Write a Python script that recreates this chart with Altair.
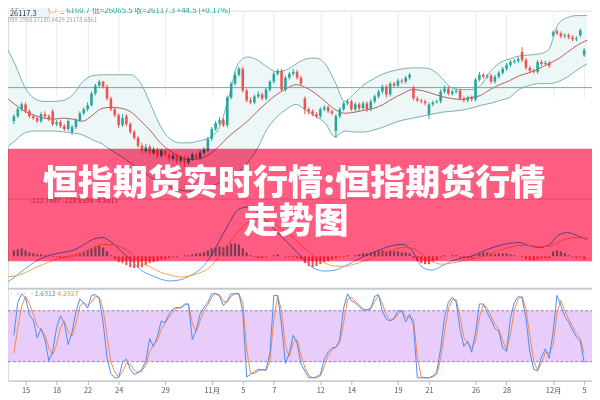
import json
import altair as alt
import pandas as pd

# ---------------- data (HSI futures, mid-Oct to early Dec 2018, ~4 bars per trading day) ----------------
bar_open = [25800, 25850, 25920, 25970, 25900, 25850, 25830, 25800, 25870, 25850,
            25900, 25770, 25790, 25750, 25720, 25690, 25740, 25810, 25880, 25920,
            25960, 26080, 26160, 26200, 26150, 26030, 25920, 25860, 25760, 25850,
            25770, 25690, 25630, 25550, 25500, 25540, 25480, 25510, 25450, 25500,
            25460, 25420, 25450, 25400, 25430, 25380, 25420, 25460, 25430, 25480,
            25510, 25620, 25720, 25780, 25810, 25760, 26040, 26180, 26270, 26330,
            26110, 26010, 25990, 26050, 26070, 26030, 26120, 26200, 26280, 26310,
            26120, 26240, 26280, 26300, 26240, 26030, 25920, 25900, 25870, 25850,
            25920, 25940, 25900, 25700, 25850, 25920, 25980, 26000, 25920, 25970,
            25930, 25980, 25920, 26000, 26050, 26100, 26150, 26070, 26180, 26160,
            26210, 26200, 26240, 26140, 26030, 26010, 26000, 25870, 25970, 25990,
            26000, 26100, 26130, 26080, 26100, 26110, 26030, 26010, 26040, 26020,
            26220, 26270, 26250, 26260, 26200, 26250, 26290, 26330, 26370, 26400,
            26410, 26500, 26420, 26340, 26310, 26300, 26400, 26380, 26390, 26670,
            26710, 26690, 26660, 26670, 26650, 26630, 26670, 26470]
bar_close = [25850, 25920, 25970, 25900, 25850, 25830, 25800, 25870, 25850, 25820,
             25770, 25790, 25750, 25720, 25800, 25740, 25810, 25880, 25920, 25960,
             26080, 26160, 26200, 26150, 26030, 25920, 25860, 25760, 25830, 25770,
             25690, 25630, 25550, 25500, 25540, 25480, 25510, 25450, 25500, 25460,
             25420, 25450, 25400, 25430, 25380, 25420, 25460, 25430, 25480, 25510,
             25620, 25720, 25780, 25810, 25760, 26040, 26180, 26270, 26330, 26110,
             26010, 25990, 26050, 26070, 26030, 26120, 26200, 26280, 26310, 26120,
             26240, 26280, 26300, 26240, 26180, 25920, 25900, 25870, 25850, 25920,
             25940, 25900, 25880, 25850, 25920, 25980, 26000, 25920, 25970, 25930,
             25980, 25920, 26000, 26050, 26100, 26150, 26070, 26180, 26160, 26210,
             26200, 26240, 26270, 26030, 26010, 26000, 25980, 25970, 25990, 26000,
             26100, 26130, 26080, 26100, 26110, 26030, 26010, 26040, 26020, 26220,
             26270, 26250, 26260, 26200, 26250, 26290, 26330, 26370, 26400, 26410,
             26430, 26420, 26340, 26310, 26300, 26400, 26380, 26390, 26360, 26700,
             26690, 26660, 26670, 26650, 26630, 26640, 26720, 26520]
bar_high = [25870, 25940, 25990, 25990, 25920, 25870, 25850, 25890, 25900, 25870,
            25920, 25810, 25810, 25770, 25820, 25760, 25830, 25900, 25940, 25990,
            26100, 26180, 26220, 26210, 26170, 26050, 25940, 25880, 25870, 25870,
            25790, 25710, 25650, 25580, 25570, 25560, 25540, 25530, 25520, 25520,
            25480, 25470, 25470, 25450, 25450, 25440, 25480, 25480, 25500, 25540,
            25640, 25740, 25800, 25840, 25830, 26060, 26200, 26300, 26350, 26350,
            26130, 26040, 26070, 26100, 26090, 26140, 26220, 26300, 26330, 26330,
            26260, 26300, 26330, 26320, 26260, 26050, 25940, 25920, 25890, 25940,
            25960, 25960, 25920, 25870, 25940, 26000, 26020, 26020, 25990, 25990,
            26000, 26000, 26020, 26070, 26120, 26170, 26170, 26200, 26200, 26230,
            26230, 26260, 26290, 26160, 26050, 26030, 26020, 25990, 26010, 26020,
            26120, 26160, 26150, 26120, 26130, 26130, 26050, 26060, 26060, 26240,
            26300, 26290, 26280, 26280, 26270, 26310, 26350, 26390, 26420, 26430,
            26450, 26550, 26440, 26360, 26330, 26420, 26420, 26410, 26410, 26720,
            26730, 26710, 26690, 26690, 26670, 26660, 26740, 26540]
bar_low = [25770, 25830, 25900, 25880, 25830, 25810, 25780, 25780, 25830, 25800,
           25750, 25750, 25730, 25700, 25700, 25660, 25720, 25790, 25860, 25900,
           25950, 26060, 26140, 26130, 26010, 25900, 25840, 25730, 25740, 25750,
           25670, 25610, 25530, 25470, 25480, 25450, 25460, 25420, 25430, 25440,
           25390, 25400, 25370, 25380, 25340, 25360, 25400, 25410, 25410, 25460,
           25490, 25600, 25700, 25760, 25740, 25740, 26020, 26160, 26250, 26090,
           25990, 25970, 25970, 26030, 26010, 26010, 26100, 26180, 26260, 26100,
           26100, 26220, 26260, 26220, 26160, 25870, 25870, 25850, 25830, 25830,
           25900, 25880, 25860, 25630, 25830, 25900, 25960, 25900, 25900, 25900,
           25910, 25890, 25900, 25980, 26030, 26080, 26040, 26050, 26140, 26140,
           26180, 26180, 26220, 26010, 25990, 25980, 25960, 25820, 25950, 25980,
           25980, 26080, 26060, 26060, 26080, 26010, 25990, 25990, 26000, 26000,
           26200, 26230, 26230, 26180, 26180, 26230, 26270, 26310, 26350, 26380,
           26390, 26400, 26320, 26290, 26280, 26280, 26360, 26360, 26340, 26650,
           26670, 26640, 26640, 26630, 26610, 26610, 26650, 26450]
macd_hist = [30, 35, 40, 30, 20, 15, 10, 10, 5, 5,
             -5, -5, -10, -10, -5, -5, 5, 10, 20, 30,
             40, 50, 55, 45, 25, 5, -15, -30, -35, -45,
             -55, -60, -60, -55, -45, -35, -30, -25, -15, -15,
             -10, -5, -5, 0, 5, 5, 10, 15, 15, 20,
             30, 40, 45, 50, 45, 55, 65, 65, 60, 40,
             20, 5, -5, -10, -10, -5, 0, 5, 10, 0,
             -5, -5, -5, -10, -15, -35, -50, -55, -50, -40,
             -30, -25, -15, -10, -5, -5, 5, 0, 5, 10,
             15, 15, 20, 25, 30, 30, 25, 30, 25, 25,
             20, 20, 15, -10, -25, -35, -40, -40, -30, -20,
             -5, 5, 0, 5, 5, -5, -10, -10, -10, 5,
             15, 20, 20, 10, 10, 15, 15, 15, 10, 5,
             0, -5, -15, -20, -20, -15, -10, -10, -10, 25,
             30, 25, 15, 5, -5, -10, -5, -15]
stoch_k = [51, 90, 100, 95, 75, 69, 48, 59, 46, 21,
           32, 60, 74, 65, 40, 55, 79, 94, 89, 83,
           98, 99, 94, 66, 25, 6, 1, 1, 19, 23,
           11, 5, 7, 11, 21, 47, 38, 50, 68, 66,
           76, 82, 84, 83, 88, 88, 46, 57, 76, 84,
           90, 100, 100, 97, 86, 92, 100, 100, 100, 79,
           2, 5, 8, 11, 10, 10, 30, 98, 98, 63,
           18, 30, 51, 42, 17, 9, 1, 1, 2, 5,
           23, 31, 36, 37, 46, 83, 100, 92, 89, 85,
           80, 81, 83, 97, 99, 79, 70, 68, 71, 80,
           80, 67, 76, 63, 1, 1, 1, 1, 3, 8,
           35, 72, 90, 96, 90, 58, 38, 44, 31, 54,
           88, 88, 78, 69, 59, 56, 36, 32, 71, 90,
           97, 95, 71, 31, 11, 9, 26, 35, 24, 55,
           98, 86, 73, 67, 57, 49, 44, 19]
stoch_d = [30, 60, 85, 97, 88, 76, 62, 58, 52, 36,
           28, 40, 60, 68, 55, 50, 65, 85, 90, 86,
           90, 97, 96, 82, 50, 20, 8, 2, 8, 18,
           17, 10, 7, 9, 16, 32, 40, 45, 58, 66,
           72, 78, 83, 84, 86, 88, 65, 55, 68, 80,
           87, 96, 100, 99, 91, 90, 97, 100, 100, 90,
           35, 6, 6, 9, 11, 10, 20, 70, 97, 80,
           38, 26, 42, 46, 28, 13, 4, 1, 1, 3,
           14, 27, 34, 37, 42, 66, 93, 96, 91, 87,
           82, 81, 82, 91, 98, 88, 75, 69, 70, 76,
           80, 73, 72, 70, 25, 2, 1, 1, 2, 5,
           22, 55, 82, 93, 93, 73, 48, 42, 36, 44,
           72, 88, 83, 74, 64, 58, 45, 34, 52, 81,
           94, 97, 82, 50, 20, 10, 18, 31, 30, 40,
           78, 92, 80, 70, 62, 53, 47, 30]

# Bollinger bands and MACD lines, sampled every 0.625 trading day
bb_upper = [26570, 26380, 26150, 26030, 26000, 26000, 26010, 26070, 26200, 26260,
            26270, 26270, 26270, 26270, 26180, 25970, 25750, 25620, 25580, 25580,
            25600, 25630, 25720, 26020, 26380, 26450, 26420, 26350, 26300, 26320,
            26380, 26430, 26440, 26380, 26200, 26000, 26080, 26170, 26230, 26280,
            26310, 26330, 26340, 26340, 26320, 26240, 26140, 26120, 26120, 26160,
            26300, 26390, 26430, 26460, 26470, 26480, 26520, 26780, 26850, 26870,
            26870]
bb_mid = [26050, 25970, 25900, 25860, 25830, 25820, 25830, 25820, 25800, 25860,
          25930, 25940, 25930, 25890, 25800, 25700, 25580, 25500, 25440, 25410,
          25420, 25460, 25540, 25640, 25720, 25800, 25900, 25990, 26070, 26130,
          26170, 26140, 26080, 26000, 25920, 25880, 25890, 25910, 25930, 25970,
          26030, 26080, 26120, 26110, 26080, 26050, 26030, 26020, 26040, 26060,
          26120, 26170, 26210, 26260, 26290, 26330, 26380, 26430, 26500, 26570,
          26620]
bb_lower = [25520, 25600, 25680, 25700, 25700, 25700, 25690, 25680, 25660, 25610,
            25570, 25500, 25440, 25370, 25300, 25230, 25170, 25130, 25100, 25090,
            25100, 25130, 25170, 25220, 25280, 25380, 25520, 25720, 25840, 25920,
            25970, 25910, 25850, 25780, 25640, 25700, 25690, 25690, 25710, 25740,
            25780, 25810, 25830, 25850, 25870, 25890, 25900, 25910, 25930, 25960,
            25980, 26010, 26040, 26120, 26160, 26180, 26180, 26200, 26250, 26320,
            26380]
macd_line = [-140, -105, -65, -30, -5, 10, 20, 30, 55, 85,
             95, 70, 25, -20, -70, -95, -115, -125, -120, -100,
             -70, -15, 70, 160, 235, 250, 225, 175, 125, 75,
             25, -25, -65, -75, -70, -50, -25, 0, 20, 40,
             55, 60, 25, -55, -70, -50, -25, -10, 0, 20,
             40, 55, 65, 70, 55, 45, 55, 105, 120, 105,
             85]
macd_signal = [-105, -100, -85, -60, -40, -20, -5, 5, 20, 40,
               60, 60, 45, 15, -30, -55, -80, -95, -105, -100,
               -85, -60, -5, 60, 125, 170, 190, 180, 155, 120,
               80, 35, -5, -35, -50, -50, -40, -25, -5, 15,
               30, 45, 40, 10, -25, -40, -35, -25, -15, -5,
               10, 30, 45, 55, 55, 50, 50, 70, 90, 95,
               90]

tick_t = [0, 2, 4, 6, 9, 12, 14, 16, 19, 21, 24, 26, 29, 31, 34, 36]
tick_labels = ["15", "18", "22", "24", "29", "11月", "5", "7", "12", "14",
               "19", "21", "26", "28", "12月", "5"]
price_grid = [25060, 25320, 25570, 25830, 26080, 26340, 26600, 26850]
price_line = 26140
stoch_levels = [80, 20]
title_lines = ["恒指期货实时行情:恒指期货行情", "走势图"]
header_quote = "6160.7  低=26065.5  收=26117.3  +44.5 (+0.17%)"
header_bb = "26089.1958   27180.6429   25178.6861"
header_bid = ["买入", "26117.3"]
macd_label = "-112.7487   -128.8598   -4.8817"
stoch_label = ["1.6312", "4.2927"]

# ---------------- tables ----------------
n = len(bar_close)
bars = pd.DataFrame({
    "t": [-0.75 + 0.25 * i for i in range(n)],
    "open": bar_open, "close": bar_close, "high": bar_high, "low": bar_low,
    "hist": macd_hist, "k": stoch_k, "d": stoch_d,
})
m = len(bb_mid)
bands = pd.DataFrame({
    "t": [-1.3125 + 0.625 * i for i in range(m)],
    "upper": bb_upper, "mid": bb_mid, "lower": bb_lower,
    "macd": macd_line, "signal": macd_signal,
})
one = pd.DataFrame({"k": [0]})
levels = pd.DataFrame({"lev": stoch_levels})
band_rect = pd.DataFrame({"hi": [stoch_levels[0]], "lo": [stoch_levels[1]]})
pl = pd.DataFrame({"p": [price_line]})

FONT = "Noto Sans CJK SC"
W = 592
UP, DOWN = "#26a69a", "#ef5350"

label_expr = (json.dumps(tick_labels, ensure_ascii=False)
              + "[indexof(" + json.dumps(tick_t) + ", datum.value)]")
X = alt.X("t:Q",
          scale=alt.Scale(domain=[-0.8125, 36.1875], nice=False, zero=False),
          axis=alt.Axis(values=tick_t, labelExpr=label_expr, grid=True,
                        gridColor="#e8ebee", gridWidth=1, domainColor="#b5b9bd",
                        tickColor="#b5b9bd", tickSize=4, labelColor="#555",
                        labelFontSize=7.5, labelFont=FONT, labelPadding=2,
                        labelOverlap=False, labelFlush=False, title=None))

p_scale = alt.Scale(domain=[25000, 26920], range=[192, 0], nice=False, zero=False)
m_scale = alt.Scale(domain=[-100, 100], range=[269, 229], nice=False, zero=False)
s_scale = alt.Scale(domain=[0, 100], range=[373, 287], nice=False, zero=False)

# ---------------- price panel ----------------
bb_area = alt.Chart(bands).mark_area(color="#eef7f7", interpolate="monotone").encode(
    x=X,
    y=alt.Y("upper:Q", scale=p_scale,
            axis=alt.Axis(values=price_grid, grid=True, gridColor="#eceff2",
                          labels=False, ticks=False, domain=False, title=None)),
    y2="lower:Q")
bb_up = alt.Chart(bands).mark_line(color="#78aeb0", strokeWidth=1, interpolate="monotone").encode(
    x=X, y=alt.Y("upper:Q", scale=p_scale, axis=None))
bb_lo = alt.Chart(bands).mark_line(color="#78aeb0", strokeWidth=1, interpolate="monotone").encode(
    x=X, y=alt.Y("lower:Q", scale=p_scale, axis=None))
bb_md = alt.Chart(bands).mark_line(color="#b0605c", strokeWidth=1, interpolate="monotone").encode(
    x=X, y=alt.Y("mid:Q", scale=p_scale, axis=None))
p_rule = alt.Chart(pl).mark_rule(color="#6aaeb0", strokeWidth=1).encode(
    y=alt.Y("p:Q", scale=p_scale, axis=None))
c_col = alt.condition("datum.close >= datum.open", alt.value(UP), alt.value(DOWN))
wicks = alt.Chart(bars).mark_rule(strokeWidth=1).encode(
    x=X, y=alt.Y("low:Q", scale=p_scale, axis=None), y2="high:Q", color=c_col)
bodies = alt.Chart(bars).mark_bar(width=2.6).encode(
    x=X, y=alt.Y("open:Q", scale=p_scale, axis=None), y2="close:Q", color=c_col)
price_group = alt.layer(bb_area, bb_up, bb_lo, bb_md, p_rule, wicks, bodies)

# ---------------- MACD panel ----------------
h_col = alt.condition("datum.hist >= 0", alt.value("#7aa8a4"), alt.value("#ef5350"))
hist = alt.Chart(bars).mark_bar(width=2.2).encode(
    x=X, y=alt.Y("hist:Q", scale=m_scale, axis=None), y2=alt.datum(0), color=h_col)
macd_l = alt.Chart(bands).mark_line(color="#5aa2ee", strokeWidth=1, interpolate="monotone").encode(
    x=X, y=alt.Y("macd:Q", scale=m_scale, axis=None))
macd_s = alt.Chart(bands).mark_line(color="#f2a15a", strokeWidth=1, interpolate="monotone").encode(
    x=X, y=alt.Y("signal:Q", scale=m_scale, axis=None))
macd_group = alt.layer(hist, macd_l, macd_s)

# ---------------- Stochastic panel ----------------
s_band = alt.Chart(band_rect).mark_rect(color="#e6c8fa", opacity=0.92).encode(
    x=alt.value(0), x2=alt.value(W),
    y=alt.Y("hi:Q", scale=s_scale, axis=None), y2="lo:Q")
s_rules = alt.Chart(levels).mark_rule(color="#9a7ab4", strokeDash=[3, 2], strokeWidth=1).encode(
    x=alt.value(0), x2=alt.value(W), y=alt.Y("lev:Q", scale=s_scale, axis=None))
s_k = alt.Chart(bars).mark_line(color="#4a8cf0", strokeWidth=1).encode(
    x=X, y=alt.Y("k:Q", scale=s_scale, axis=None))
s_d = alt.Chart(bars).mark_line(color="#f5884a", strokeWidth=1).encode(
    x=X, y=alt.Y("d:Q", scale=s_scale, axis=None))
stoch_group = alt.layer(s_band, s_rules, s_d, s_k)

# ---------------- decorations ----------------
sep1 = alt.Chart(one).mark_rule(color="#d7dadd", strokeWidth=1).encode(
    x=alt.value(0), x2=alt.value(W), y=alt.value(191))
sep2 = alt.Chart(one).mark_rule(color="#c6cacf", strokeWidth=2).encode(
    x=alt.value(0), x2=alt.value(W), y=alt.value(282))
bid_box = alt.Chart(one).mark_rect(fill="#edf4fb", stroke="#cfdcea", strokeWidth=1).encode(
    x=alt.value(-8), x2=alt.value(42), y=alt.value(-8), y2=alt.value(7))
bid_a = alt.Chart(one).mark_text(text=header_bid[0], font=FONT, fontSize=6.5, color="#555",
                                 align="left", baseline="middle").encode(
    x=alt.value(3), y=alt.value(-5))
bid_b = alt.Chart(one).mark_text(text=header_bid[1], font=FONT, fontSize=7.5, color="#333",
                                 align="left", baseline="middle").encode(
    x=alt.value(2), y=alt.value(3))
e_icon = alt.Chart(one).mark_point(shape="circle", size=60, filled=False, color="#f5a623",
                                   strokeWidth=1).encode(x=alt.value(45), y=alt.value(-1))
minus = alt.Chart(one).mark_text(text="−", font=FONT, fontSize=7, color="#555").encode(
    x=alt.value(55), y=alt.value(3))
quote = alt.Chart(one).mark_text(text=header_quote, font=FONT, fontSize=8, color="#26a69a",
                                 align="left", baseline="middle").encode(
    x=alt.value(59), y=alt.value(0))
bbtxt = alt.Chart(one).mark_text(text=header_bb, font=FONT, fontSize=6, color="#a0a4a8",
                                 align="left", baseline="middle").encode(
    x=alt.value(-7), y=alt.value(10))
mlabel = alt.Chart(one).mark_text(text=macd_label, font=FONT, fontSize=7, color="#c05060",
                                  align="left", baseline="middle").encode(
    x=alt.value(22), y=alt.value(193))
sl1 = alt.Chart(one).mark_text(text=stoch_label[0], font=FONT, fontSize=7, color="#4a8cf0",
                               align="left", baseline="middle").encode(
    x=alt.value(27), y=alt.value(287))
sl2 = alt.Chart(one).mark_text(text=stoch_label[1], font=FONT, fontSize=7, color="#f5884a",
                               align="left", baseline="middle").encode(
    x=alt.value(50), y=alt.value(287))
icons = alt.Chart(one).mark_text(text="▾ ▫▫▫▫", font=FONT, fontSize=7, color="#b0b4b8",
                                 align="left", baseline="middle").encode(
    x=alt.value(-6), y=alt.value(287))

banner = alt.Chart(one).mark_rect(color="#ff5c81", blend="multiply").encode(
    x=alt.value(-10), x2=alt.value(W + 2), y=alt.value(140), y2=alt.value(254))
t1 = alt.Chart(one).mark_text(text=title_lines[0], font=FONT, fontSize=35.5, fontWeight=900,
                              color="white", align="center", baseline="middle").encode(
    x=alt.value(290), y=alt.value(176))
t2 = alt.Chart(one).mark_text(text=title_lines[1], font=FONT, fontSize=35.5, fontWeight=900,
                              color="white", align="center", baseline="middle").encode(
    x=alt.value(292), y=alt.value(214))

chart = alt.layer(
    stoch_group, price_group, macd_group,
    sep1, sep2, bid_box, bid_a, bid_b, e_icon, minus, quote, bbtxt,
    mlabel, sl1, sl2, icons, banner, t1, t2,
).resolve_scale(y="independent").properties(
    width=W, height=375,
    autosize=alt.AutoSizeParams(type="none"),
    padding={"left": 0, "top": 0, "right": 0, "bottom": 17},
).configure_view(strokeWidth=0).configure(background="white")

chart.save("out.html", embed_options={"renderer": "svg", "actions": False})
